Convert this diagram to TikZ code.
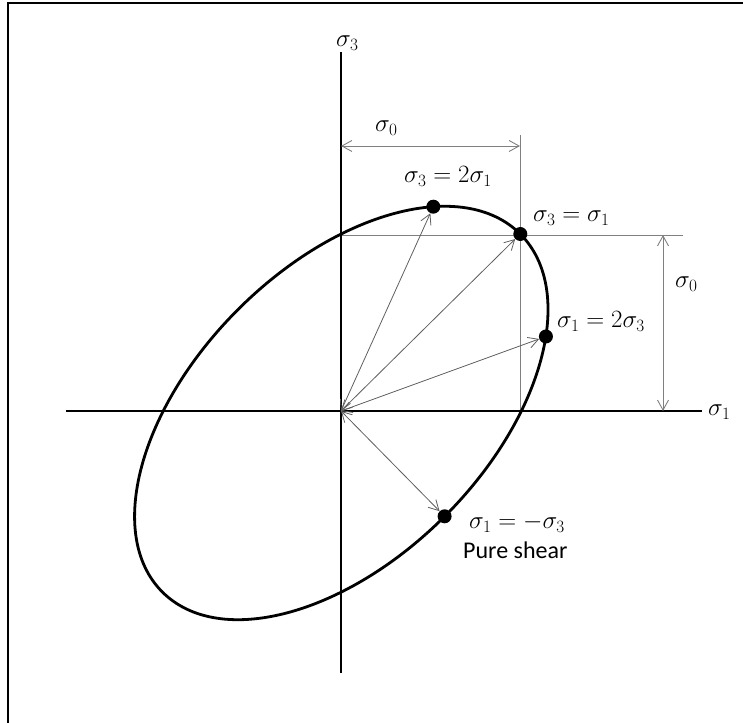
\documentclass[tikz,border=0pt]{standalone}
\usepackage{fontspec}
\newfontfamily\carlito{Carlito}
\usetikzlibrary{arrows.meta}
\definecolor{guidegray}{RGB}{128,128,128}
\definecolor{raygray}{RGB}{95,95,95}
\begin{document}
\begin{tikzpicture}[x=1pt,y=1pt,
  frame/.style={line width=2pt},
  axis/.style={line width=1.6pt},
  curve/.style={line width=2.8pt},
  guide/.style={line width=0.9pt, draw=guidegray},
  barb/.tip={Straight Barb[length=10pt,width=11pt]},
  dim/.style={line width=0.9pt, draw=guidegray, barb-barb},
  ray/.style={line width=0.8pt, draw=raygray, barb-barb},
  dot/.style={circle, fill=black, inner sep=0pt, minimum size=14pt},
  lab/.style={font=\fontsize{24}{28}\selectfont, inner sep=0pt, anchor=base west},
  txt/.style={font=\carlito\fontsize{24}{28}\selectfont, inner sep=0pt, anchor=base west}
]
\useasboundingbox (0,0) rectangle (743,722);
\draw[frame] (8,719) rectangle (800,-50);

% axes
\coordinate (xl) at (66,311);
\coordinate (xr) at (702,311);
\coordinate (yb) at (341,49);
\coordinate (yt) at (341,670);
\coordinate (O) at (341,311);

% guide lines
\coordinate (g1) at (341,487);
\coordinate (g2) at (683,487);
\coordinate (g3) at (520,587);
\coordinate (g4) at (520,311);
\draw[guide] (g1) -- (g2);
\draw[guide] (g3) -- (g4);

\draw[axis] (xl) -- (xr);
\draw[axis] (yb) -- (yt);
\node[lab] (s1) at (708,306) {$\sigma_1$};
\node[lab] (s3) at (336,675) {$\sigma_3$};

% ellipse
\draw[curve, rotate around={45:(341.3,309)}] (341.3,309) ellipse [x radius=253.1, y radius=146.2];

% dots
\node[dot] (A) at (433.3,515.3) {};
\node[dot] (B) at (520.3,488) {};
\node[dot] (C) at (545.9,385.5) {};
\node[dot] (D) at (444.6,205.7) {};

% rays
\draw[ray] (O) -- (A);
\draw[ray] (O) -- (B);
\draw[ray] (O) -- (C);
\draw[ray] (O) -- (D);

% dimension arrows
\coordinate (t1) at (341,576);
\coordinate (t2) at (520,576);
\draw[dim] (t1) -- (t2);
\coordinate (r1) at (663,487);
\coordinate (r2) at (663,311);
\draw[dim] (r1) -- (r2);

% labels
\node[lab] (l0a) at (375,590) {$\sigma_0$};
\node[lab] (l0b) at (675,434) {$\sigma_0$};
\node[lab] (lA) at (404,539) {$\sigma_3 = 2\sigma_1$};
\node[lab] (lB) at (533,500) {$\sigma_3 = \sigma_1$};
\node[lab] (lC) at (557,394) {$\sigma_1 = 2\sigma_3$};
\node[lab] (lD) at (469,193) {$\sigma_1 = -\sigma_3$};
\node[txt] (lE) at (463,163) {Pure shear};
\end{tikzpicture}
\end{document}
